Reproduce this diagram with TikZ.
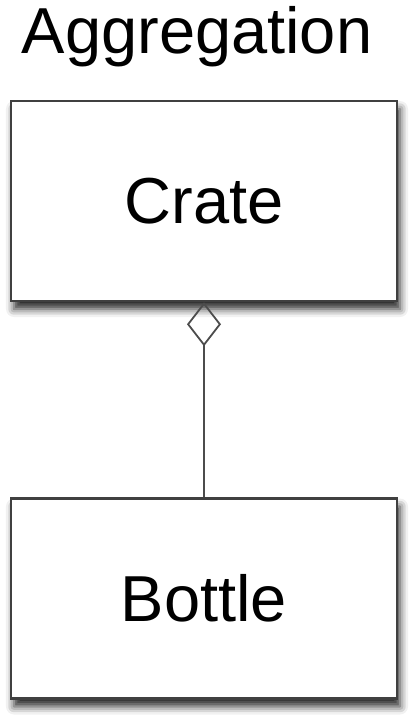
\documentclass[tikz,border=0pt]{standalone}
\usepackage{fontspec}
\setmainfont{Liberation Sans}
\usepackage{tikz}
\usetikzlibrary{positioning,arrows.meta,shadows.blur}
\tikzset{
  classbox/.style={draw=black!75, line width=2.5pt, fill=white,
    minimum width=386pt, minimum height=200pt, inner sep=0pt,
    font=\fontsize{65}{78}\selectfont,
    blur shadow={shadow xshift=3pt, shadow yshift=-8pt, shadow blur radius=8pt, shadow opacity=85}},
  aggregation/.style={draw=black!70, line width=1.8pt,
    {Diamond[open, length=44pt, width=34pt]}-}
}
\begin{document}
\begin{tikzpicture}[x=1pt,y=1pt]
    \useasboundingbox (0,0) rectangle (420,-726);
    \node[anchor=base, font=\fontsize{65}{78}\selectfont] (title) at (197,-53) {Aggregation};
    \node[classbox] (crate) at (204,-201) {Crate};
    \node[classbox, below=195pt of crate] (bottle) {Bottle};
    \draw[aggregation] (crate) -- (bottle);
\end{tikzpicture}
\end{document}
